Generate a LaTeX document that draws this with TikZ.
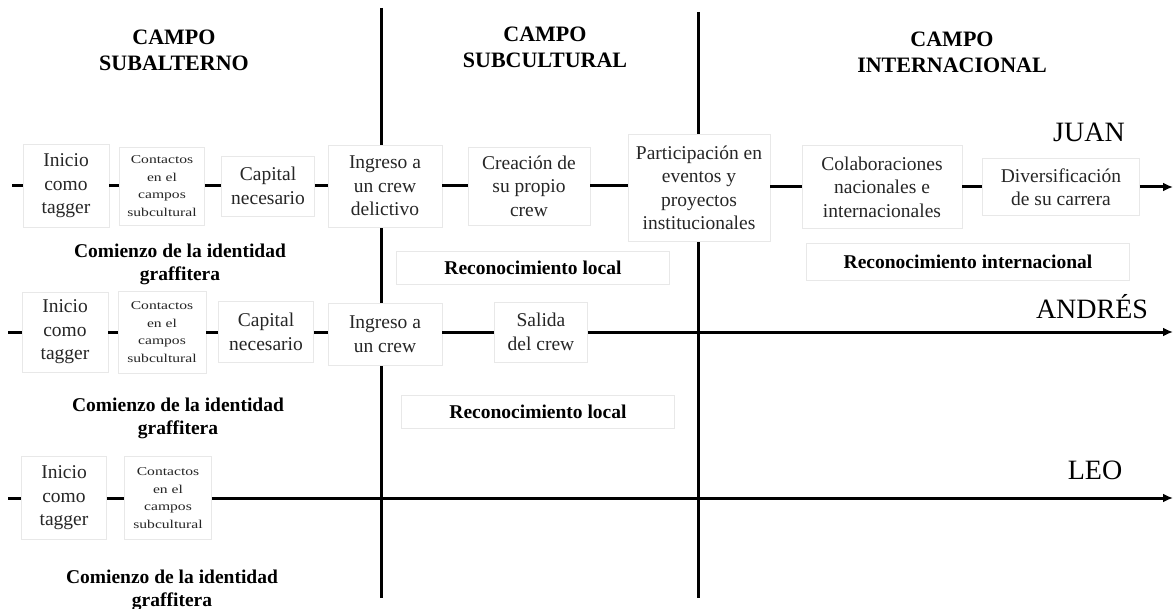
\documentclass[tikz,border=0pt]{standalone}
\usepackage{fontspec}
\setmainfont{Liberation Serif}
\newfontfamily\stretchfont{Liberation Serif}[FakeStretch=1.3]
\usetikzlibrary{arrows.meta}
\newcommand\bxfont{\fontsize{19.5}{23.5}\selectfont}
\newcommand\smfont{\stretchfont\fontsize{12}{17.5}\selectfont}
\newcommand\lbfont{\bfseries\fontsize{19.5}{23}\selectfont}
\newcommand\hdfont{\bfseries\fontsize{22}{26}\selectfont}
\newcommand\nmfont{\fontsize{28}{30}\selectfont}
\begin{document}
\begin{tikzpicture}[x=1pt,y=-1pt,
 box/.style={draw=black!9, line width=0.6pt, fill=white, align=center, inner sep=0pt, text=black!85, font=\bxfont},
 sbox/.style={box, font=\smfont},
 lab/.style={align=center, font=\lbfont, inner sep=0pt},
 lbox/.style={draw=black!9, line width=0.6pt, fill=white, font=\lbfont, inner sep=0pt},
 head/.style={align=center, font=\hdfont, inner sep=0pt},
 who/.style={font=\nmfont, inner sep=0pt},
 axis/.style={line width=3pt},
 link/.style={line width=3pt},
 arr/.style={line width=3pt, -{Latex[length=10pt,width=9pt]}},
]
\useasboundingbox (0,0) rectangle (1174,609);

% field separators
\coordinate (v1t) at (381,8);
\coordinate (v1b) at (381,598);
\coordinate (v2t) at (698,12);
\coordinate (v2b) at (698,598);
\draw[axis] (v1t) -- (v1b);
\draw[axis] (v2t) -- (v2b);

% headers
\node[head] (h1) at (174,50) {CAMPO\\SUBALTERNO};
\node[head] (h2) at (545,47) {CAMPO\\SUBCULTURAL};
\node[head] (h3) at (952,52) {CAMPO\\INTERNACIONAL};

% names
\node[who] (juan) at (1089,132) {JUAN};
\node[who] (andres) at (1092,307) {ANDRÉS};
\node[who] (leo) at (1095,470) {LEO};

% row 1 (Juan)
\coordinate (s1) at (12,186);
\coordinate (e1) at (1173,186);
\node[box, minimum width=86pt, minimum height=83pt] (i1) at (66,186) {Inicio\\como\\tagger};
\node[sbox, minimum width=85pt, minimum height=78pt] (c1) at (162,186) {Contactos\\en el\\campos\\subcultural};
\node[box, minimum width=93pt, minimum height=60pt] (p1) at (268,186) {Capital\\necesario};
\node[box, minimum width=114pt, minimum height=82pt] (g1) at (385,186) {Ingreso a\\un crew\\delictivo};
\node[box, minimum width=122pt, minimum height=78pt] (cr1) at (529,186) {Creación de\\su propio\\crew};
\node[box, minimum width=142pt, minimum height=107pt] (pa1) at (699,188) {Participación en\\eventos y\\proyectos\\institucionales};
\node[box, minimum width=160pt, minimum height=83pt] (co1) at (882,187) {Colaboraciones\\nacionales e\\internacionales};
\node[box, minimum width=157pt, minimum height=57pt] (d1) at (1061,187) {Diversificación\\de su carrera};
\draw[link] (s1) -- (i1);
\draw[link] (i1) -- (c1);
\draw[link] (c1) -- (p1);
\draw[link] (p1) -- (g1);
\draw[link] (g1) -- (cr1);
\draw[link] (cr1) -- (pa1.west |- cr1);
\draw[link] (pa1.east |- co1) -- (co1);
\draw[link] (co1) -- (d1);
\draw[arr] (d1) -- (e1 |- d1);

\node[lab] (cm1) at (180,264) {Comienzo de la identidad\\graffitera};
\node[lbox, minimum width=273pt, minimum height=33pt] (rl1) at (533,268) {Reconocimiento local};
\node[lbox, minimum width=323pt, minimum height=37pt] (ri1) at (968,262) {Reconocimiento internacional};

% row 2 (Andres)
\coordinate (s2) at (8,332);
\coordinate (e2) at (1173,332);
\node[box, minimum width=86pt, minimum height=80pt] (i2) at (65,332) {Inicio\\como\\tagger};
\node[sbox, minimum width=88pt, minimum height=82pt] (c2) at (162,332) {Contactos\\en el\\campos\\subcultural};
\node[box, minimum width=95pt, minimum height=61pt] (p2) at (266,332) {Capital\\necesario};
\node[box, minimum width=114pt, minimum height=62pt] (g2) at (385,334) {Ingreso a\\un crew};
\node[box, minimum width=93pt, minimum height=60pt] (sa2) at (541,332) {Salida\\del crew};
\draw[link] (s2) -- (i2);
\draw[link] (i2) -- (c2);
\draw[link] (c2) -- (p2);
\draw[link] (p2) -- (g2.west |- p2);
\draw[link] (g2.east |- sa2) -- (sa2);
\draw[arr] (sa2) -- (e2);

\node[lab] (cm2) at (178,418) {Comienzo de la identidad\\graffitera};
\node[lbox, minimum width=273pt, minimum height=33pt] (rl2) at (538,412) {Reconocimiento local};

% row 3 (Leo)
\coordinate (s3) at (8,498);
\coordinate (e3) at (1173,498);
\node[box, minimum width=85pt, minimum height=83pt] (i3) at (64,498) {Inicio\\como\\tagger};
\node[sbox, minimum width=87pt, minimum height=83pt] (c3) at (168,498) {Contactos\\en el\\campos\\subcultural};
\draw[link] (s3) -- (i3);
\draw[link] (i3) -- (c3);
\draw[arr] (c3) -- (e3);

\node[lab] (cm3) at (172,590) {Comienzo de la identidad\\graffitera};
\end{tikzpicture}
\end{document}
